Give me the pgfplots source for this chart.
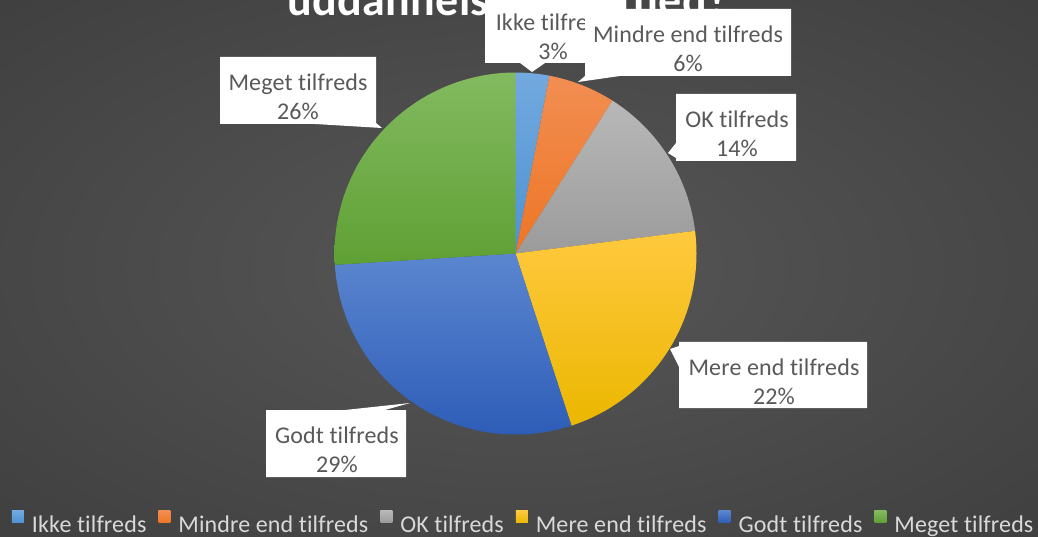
\documentclass[border=0pt]{standalone}
\usepackage{fontspec}
\setmainfont{Carlito}[Ligatures=NoCommon, LetterSpace=0.6]
\usepackage{pgfplots}
\pgfplotsset{compat=1.18}

\definecolor{bgin}{HTML}{575757}
\definecolor{bgout}{HTML}{363636}
\definecolor{bgcorner}{HTML}{2A2A2A}
\definecolor{labtext}{HTML}{595959}
\definecolor{legtext}{HTML}{D9D9D9}
% slice colours, top and bottom of the gradient
\definecolor{ikkeT}{HTML}{72A9DF}   \definecolor{ikkeB}{HTML}{4E92D3}
\definecolor{mindreT}{HTML}{F28E52} \definecolor{mindreB}{HTML}{ED7525}
\definecolor{okT}{HTML}{B8B8B8}     \definecolor{okB}{HTML}{9B9B9B}
\definecolor{mereT}{HTML}{FFC93F}   \definecolor{mereB}{HTML}{EBB700}
\definecolor{godtT}{HTML}{5B86CF}   \definecolor{godtB}{HTML}{2E5DB8}
\definecolor{megetT}{HTML}{83BA60}  \definecolor{megetB}{HTML}{5FA034}

\pgfdeclareradialshading{bgshade}{\pgfpoint{0bp}{0bp}}{color(0bp)=(bgin); color(50bp)=(bgout); color(71bp)=(bgcorner)}

\tikzset{
  callout/.style={fill=white, draw=none},
  lab/.style={text=labtext, align=center, font=\fontsize{24}{29}\selectfont},
}

\begin{document}
\begin{tikzpicture}
\useasboundingbox (0,0) rectangle (1038pt,536pt);
\clip (0,0) rectangle (1038pt,536pt);
\fill[shading=bgshade] (0,0) rectangle (1038pt,536pt);
\begin{axis}[
    at={(0,0)}, anchor=south west,
    scale only axis, width=1038pt, height=536pt,
    xmin=0, xmax=1038, ymin=0, ymax=536,
    hide axis, clip=false,
    legend columns=-1,
    legend image code/.code={\fill[#1] (0pt,1pt) rectangle (12pt,13pt);},
    legend style={draw=none, fill=none, inner sep=0pt, outer sep=0pt,
        at={(12/1038,4/536)}, anchor=south west,
        nodes={inner sep=0pt, text=legtext, text depth=0pt,
               font=\fontsize{24}{29}\selectfont},
        /tikz/every odd column/.append style={column sep=8pt},
        /tikz/every even column/.append style={column sep=12pt}},
]
% shares in percent: 3, 6, 14, 22, 29, 26 (clockwise from the top)
\addplot[draw=none, top color=ikkeT, bottom color=ikkeB, domain=0:3, samples=10, variable=\t]
  ({515.5+181*sin(3.6*\t)}, {282.5+181*cos(3.6*\t)}) -- (axis cs:515.5,282.5) -- cycle;
\addplot[draw=none, top color=mindreT, bottom color=mindreB, domain=3:9, samples=15, variable=\t]
  ({515.5+181*sin(3.6*\t)}, {282.5+181*cos(3.6*\t)}) -- (axis cs:515.5,282.5) -- cycle;
\addplot[draw=none, top color=okT, bottom color=okB, domain=9:23, samples=30, variable=\t]
  ({515.5+181*sin(3.6*\t)}, {282.5+181*cos(3.6*\t)}) -- (axis cs:515.5,282.5) -- cycle;
\addplot[draw=none, top color=mereT, bottom color=mereB, domain=23:45, samples=45, variable=\t]
  ({515.5+181*sin(3.6*\t)}, {282.5+181*cos(3.6*\t)}) -- (axis cs:515.5,282.5) -- cycle;
\addplot[draw=none, top color=godtT, bottom color=godtB, domain=45:74, samples=60, variable=\t]
  ({515.5+181*sin(3.6*\t)}, {282.5+181*cos(3.6*\t)}) -- (axis cs:515.5,282.5) -- cycle;
\addplot[draw=none, top color=megetT, bottom color=megetB, domain=74:100, samples=55, variable=\t]
  ({515.5+181*sin(3.6*\t)}, {282.5+181*cos(3.6*\t)}) -- (axis cs:515.5,282.5) -- cycle;
\legend{Ikke tilfreds, Mindre end tilfreds, OK tilfreds, Mere end tilfreds, Godt tilfreds, Meget tilfreds}

% title, last line only (the rest lies above the picture)
\node[anchor=base, text=white, font=\fontsize{46}{50}\selectfont\bfseries]
  at (axis cs:508,520) {uddannelsesparathed?};

% data labels
\fill[callout] (axis cs:485,540) -- (axis cs:621,540) -- (axis cs:621,473) -- (axis cs:545,473)
  -- (axis cs:532,464) -- (axis cs:520,473) -- (axis cs:485,473) -- cycle;
\node[lab] at (axis cs:553,499) {Ikke tilfreds\\3\%};
\fill[callout] (axis cs:585,527) -- (axis cs:791,527) -- (axis cs:791,460) -- (axis cs:620,460)
  -- (axis cs:578,454) -- (axis cs:585,460) -- cycle;
\node[lab] at (axis cs:688,487) {Mindre end tilfreds\\6\%};
\fill[callout] (axis cs:676,442) -- (axis cs:796,442) -- (axis cs:796,375) -- (axis cs:676,375)
  -- (axis cs:676,378) -- (axis cs:668,383) -- (axis cs:676,393) -- cycle;
\node[lab] at (axis cs:737,402) {OK tilfreds\\14\%};
\fill[callout] (axis cs:679,194) -- (axis cs:867,194) -- (axis cs:867,128) -- (axis cs:679,128)
  -- (axis cs:679,169) -- (axis cs:670,187) -- (axis cs:679,190) -- cycle;
\node[lab] at (axis cs:774,154.5) {Mere end tilfreds\\22\%};
\fill[callout] (axis cs:266,126) -- (axis cs:345,126) -- (axis cs:410,133) -- (axis cs:385,126)
  -- (axis cs:406,126) -- (axis cs:406,59) -- (axis cs:266,59) -- cycle;
\node[lab] at (axis cs:337,86) {Godt tilfreds\\29\%};
\fill[callout] (axis cs:220,479) -- (axis cs:376,479) -- (axis cs:376,413) -- (axis cs:382,408)
  -- (axis cs:315,412) -- (axis cs:220,412) -- cycle;
\node[lab] at (axis cs:298,439) {Meget tilfreds\\26\%};
\end{axis}
\end{tikzpicture}
\end{document}
